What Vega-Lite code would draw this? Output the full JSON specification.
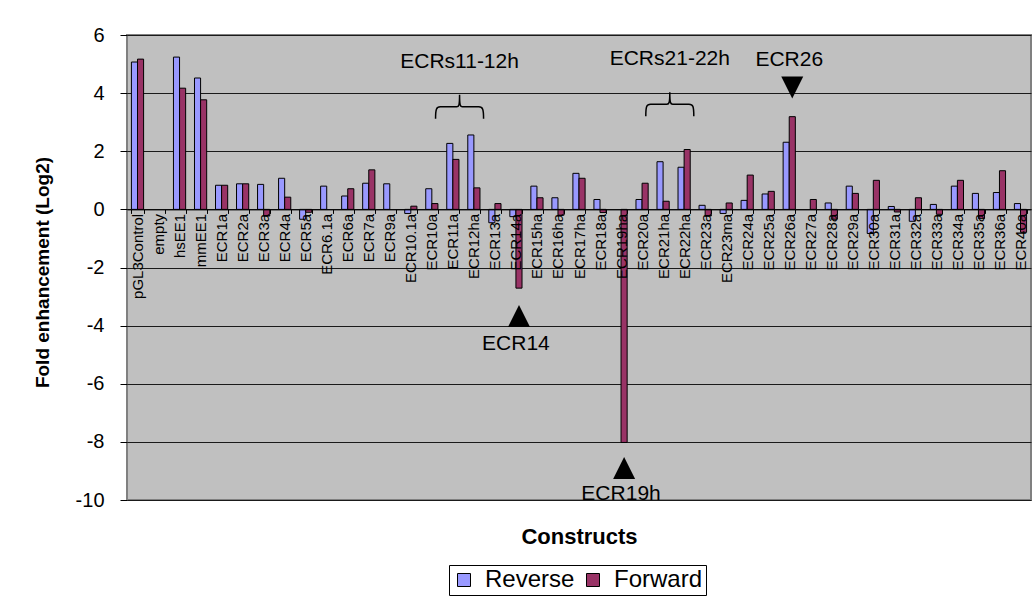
{
  "$schema": "https://vega.github.io/schema/vega-lite/v6.json",
  "autosize": {"type": "none"},
  "width": 904,
  "height": 465,
  "padding": {"left": 127, "top": 35, "right": 2, "bottom": 96},
  "background": "white",
  "config": {
    "font": "Liberation Sans",
    "view": {"fill": "#c0c0c0", "stroke": "#808080", "strokeWidth": 2}
  },
  "datasets": {
    "bars": [
      {"construct": "pGL3Control", "series": "Reverse", "value": 5.07},
      {"construct": "pGL3Control", "series": "Forward", "value": 5.17},
      {"construct": "hsEE1", "series": "Reverse", "value": 5.24},
      {"construct": "hsEE1", "series": "Forward", "value": 4.17},
      {"construct": "mmEE1", "series": "Reverse", "value": 4.52},
      {"construct": "mmEE1", "series": "Forward", "value": 3.77},
      {"construct": "ECR1a", "series": "Reverse", "value": 0.83},
      {"construct": "ECR1a", "series": "Forward", "value": 0.83},
      {"construct": "ECR2a", "series": "Reverse", "value": 0.88},
      {"construct": "ECR2a", "series": "Forward", "value": 0.88},
      {"construct": "ECR3a", "series": "Reverse", "value": 0.86},
      {"construct": "ECR3a", "series": "Forward", "value": -0.23},
      {"construct": "ECR4a", "series": "Reverse", "value": 1.07},
      {"construct": "ECR4a", "series": "Forward", "value": 0.42},
      {"construct": "ECR5a", "series": "Reverse", "value": -0.34},
      {"construct": "ECR5a", "series": "Forward", "value": -0.1},
      {"construct": "ECR6.1a", "series": "Reverse", "value": 0.8},
      {"construct": "ECR6a", "series": "Reverse", "value": 0.46},
      {"construct": "ECR6a", "series": "Forward", "value": 0.71},
      {"construct": "ECR7a", "series": "Reverse", "value": 0.9},
      {"construct": "ECR7a", "series": "Forward", "value": 1.36},
      {"construct": "ECR9a", "series": "Reverse", "value": 0.88},
      {"construct": "ECR10.1a", "series": "Reverse", "value": -0.14},
      {"construct": "ECR10.1a", "series": "Forward", "value": 0.11},
      {"construct": "ECR10a", "series": "Reverse", "value": 0.71},
      {"construct": "ECR10a", "series": "Forward", "value": 0.2},
      {"construct": "ECR11a", "series": "Reverse", "value": 2.27},
      {"construct": "ECR11a", "series": "Forward", "value": 1.72},
      {"construct": "ECR12ha", "series": "Reverse", "value": 2.56},
      {"construct": "ECR12ha", "series": "Forward", "value": 0.74},
      {"construct": "ECR13a", "series": "Reverse", "value": -0.46},
      {"construct": "ECR13a", "series": "Forward", "value": 0.2},
      {"construct": "ECR14a", "series": "Reverse", "value": -0.25},
      {"construct": "ECR14a", "series": "Forward", "value": -2.71},
      {"construct": "ECR15ha", "series": "Reverse", "value": 0.8},
      {"construct": "ECR15ha", "series": "Forward", "value": 0.4},
      {"construct": "ECR16ha", "series": "Reverse", "value": 0.4},
      {"construct": "ECR16ha", "series": "Forward", "value": -0.2},
      {"construct": "ECR17ha", "series": "Reverse", "value": 1.24},
      {"construct": "ECR17ha", "series": "Forward", "value": 1.07},
      {"construct": "ECR18a", "series": "Reverse", "value": 0.34},
      {"construct": "ECR18a", "series": "Forward", "value": -0.11},
      {"construct": "ECR19ha", "series": "Forward", "value": -8.02},
      {"construct": "ECR20a", "series": "Reverse", "value": 0.34},
      {"construct": "ECR20a", "series": "Forward", "value": 0.9},
      {"construct": "ECR21ha", "series": "Reverse", "value": 1.64},
      {"construct": "ECR21ha", "series": "Forward", "value": 0.28},
      {"construct": "ECR22ha", "series": "Reverse", "value": 1.45},
      {"construct": "ECR22ha", "series": "Forward", "value": 2.06},
      {"construct": "ECR23a", "series": "Reverse", "value": 0.14},
      {"construct": "ECR23a", "series": "Forward", "value": -0.23},
      {"construct": "ECR23ma", "series": "Reverse", "value": -0.14},
      {"construct": "ECR23ma", "series": "Forward", "value": 0.22},
      {"construct": "ECR24a", "series": "Reverse", "value": 0.31},
      {"construct": "ECR24a", "series": "Forward", "value": 1.18},
      {"construct": "ECR25a", "series": "Reverse", "value": 0.53},
      {"construct": "ECR25a", "series": "Forward", "value": 0.62},
      {"construct": "ECR26a", "series": "Reverse", "value": 2.31},
      {"construct": "ECR26a", "series": "Forward", "value": 3.19},
      {"construct": "ECR27a", "series": "Forward", "value": 0.34},
      {"construct": "ECR28a", "series": "Reverse", "value": 0.22},
      {"construct": "ECR28a", "series": "Forward", "value": -0.34},
      {"construct": "ECR29a", "series": "Reverse", "value": 0.8},
      {"construct": "ECR29a", "series": "Forward", "value": 0.55},
      {"construct": "ECR30a", "series": "Reverse", "value": -0.83},
      {"construct": "ECR30a", "series": "Forward", "value": 1.0},
      {"construct": "ECR31a", "series": "Reverse", "value": 0.1},
      {"construct": "ECR31a", "series": "Forward", "value": -0.09},
      {"construct": "ECR32a", "series": "Reverse", "value": -0.41},
      {"construct": "ECR32a", "series": "Forward", "value": 0.4},
      {"construct": "ECR33a", "series": "Reverse", "value": 0.17},
      {"construct": "ECR33a", "series": "Forward", "value": -0.17},
      {"construct": "ECR34a", "series": "Reverse", "value": 0.8},
      {"construct": "ECR34a", "series": "Forward", "value": 1.0},
      {"construct": "ECR35a", "series": "Reverse", "value": 0.55},
      {"construct": "ECR35a", "series": "Forward", "value": -0.32},
      {"construct": "ECR36a", "series": "Reverse", "value": 0.58},
      {"construct": "ECR36a", "series": "Forward", "value": 1.33},
      {"construct": "ECR40a", "series": "Reverse", "value": 0.2},
      {"construct": "ECR40a", "series": "Forward", "value": -0.79}
    ],
    "groups": [
      {"construct": "ECR11a", "label": "ECRs11-12h", "labelY": 5.06, "braceY": 3.53},
      {"construct": "ECR21ha", "label": "ECRs21-22h", "labelY": 5.16, "braceY": 3.62}
    ],
    "marks": [
      {"construct": "ECR14a", "label": "ECR14", "labelY": -4.63, "arrowY": -3.67, "dir": "up"},
      {"construct": "ECR19ha", "label": "ECR19h", "labelY": -9.79, "arrowY": -8.9, "dir": "up"},
      {"construct": "ECR26a", "label": "ECR26", "labelY": 5.15, "arrowY": 4.19, "dir": "down"}
    ]
  },
  "encoding": {
    "x": {
      "field": "construct",
      "type": "nominal",
      "scale": {
        "domain": ["pGL3Control", "empty", "hsEE1", "mmEE1", "ECR1a", "ECR2a", "ECR3a", "ECR4a", "ECR5a", "ECR6.1a", "ECR6a", "ECR7a", "ECR9a", "ECR10.1a", "ECR10a", "ECR11a", "ECR12ha", "ECR13a", "ECR14a", "ECR15ha", "ECR16ha", "ECR17ha", "ECR18a", "ECR19ha", "ECR20a", "ECR21ha", "ECR22ha", "ECR23a", "ECR23ma", "ECR24a", "ECR25a", "ECR26a", "ECR27a", "ECR28a", "ECR29a", "ECR30a", "ECR31a", "ECR32a", "ECR33a", "ECR34a", "ECR35a", "ECR36a", "ECR40a"],
        "paddingInner": 0.42,
        "paddingOuter": 0.21
      },
      "axis": {
        "orient": "bottom",
        "offset": -290.6,
        "zindex": 1,
        "domainColor": "#000000",
        "domainWidth": 1,
        "tickBand": "extent",
        "tickColor": "#000000",
        "tickSize": 4,
        "labelAngle": 270,
        "labelAlign": "right",
        "labelBaseline": "middle",
        "labelPadding": 0,
        "labelFontSize": 15,
        "labelColor": "#000000",
        "labelLimit": 0,
        "title": "Constructs",
        "titleFontSize": 22,
        "titleFontWeight": "bold",
        "titleColor": "#000000",
        "titleBaseline": "middle",
        "titleY": 327
      }
    }
  },
  "layer": [
    {
      "data": {"name": "bars"},
      "mark": {"type": "bar", "stroke": "#000000", "strokeWidth": 1},
      "encoding": {
        "xOffset": {"field": "series", "type": "nominal", "scale": {"domain": ["Reverse", "Forward"], "paddingInner": 0, "paddingOuter": 0}},
        "y": {
          "field": "value",
          "type": "quantitative",
          "scale": {"domain": [-10, 6], "nice": false, "zero": false},
          "axis": {
            "values": [-10, -8, -6, -4, -2, 0, 2, 4, 6],
            "labelExpr": "replace(datum.label, '\u2212', '-')",
            "grid": true,
            "gridColor": "#1a1a1a",
            "gridWidth": 1,
            "domain": false,
            "tickColor": "#000000",
            "tickSize": 7,
            "labelPadding": 16,
            "labelFontSize": 20,
            "labelColor": "#000000",
            "title": "Fold enhancement (Log2)",
            "titleFontSize": 19,
            "titleFontWeight": "bold",
            "titleColor": "#000000",
            "titleAngle": 270,
            "titleAlign": "center",
            "titleBaseline": "middle",
            "titleX": -85,
            "titleY": 237
          }
        },
        "color": {
          "field": "series",
          "type": "nominal",
          "scale": {"domain": ["Reverse", "Forward"], "range": ["#9999ff", "#993366"]},
          "legend": {
            "title": null,
            "orient": "none",
            "legendX": 322,
            "legendY": 530,
            "direction": "horizontal",
            "strokeColor": "#000000",
            "fillColor": "#ffffff",
            "padding": 3,
            "symbolType": "square",
            "symbolSize": 169,
            "symbolStrokeColor": "#000000",
            "symbolStrokeWidth": 1,
            "labelFontSize": 24,
            "labelColor": "#000000",
            "labelOffset": 9,
            "columnPadding": 6
          }
        }
      }
    },
    {
      "mark": {"type": "rule", "color": "#ff0000", "strokeWidth": 2, "strokeDash": [8, 5]},
      "encoding": {"y": {"datum": 1, "type": "quantitative"}, "x": null}
    },
    {
      "data": {"name": "groups"},
      "mark": {"type": "text", "fontSize": 21, "color": "#000000", "baseline": "middle", "align": "center"},
      "encoding": {
        "x": {"field": "construct", "type": "nominal", "bandPosition": 1.05},
        "y": {"field": "labelY", "type": "quantitative"},
        "text": {"field": "label"}
      }
    },
    {
      "data": {"name": "groups"},
      "mark": {"type": "point", "shape": "M -1 0.5 C -1 0.1 -0.97 0 -0.8 0 L -0.12 0 C -0.03 0 0 -0.05 0 -0.5 C 0 -0.05 0.03 0 0.12 0 L 0.8 0 C 0.97 0 1 0.1 1 0.5", "size": 2304, "filled": false, "stroke": "#000000", "strokeWidth": 1.5, "opacity": 1},
      "encoding": {
        "x": {"field": "construct", "type": "nominal", "bandPosition": 1.05},
        "y": {"field": "braceY", "type": "quantitative"}
      }
    },
    {
      "data": {"name": "marks"},
      "mark": {"type": "text", "fontSize": 21, "color": "#000000", "baseline": "middle", "align": "center"},
      "encoding": {
        "y": {"field": "labelY", "type": "quantitative"},
        "text": {"field": "label"}
      }
    },
    {
      "data": {"name": "marks"},
      "mark": {"type": "point", "filled": true, "size": 484, "color": "#000000", "opacity": 1},
      "encoding": {
        "xOffset": {"datum": "Forward"},
        "y": {"field": "arrowY", "type": "quantitative"},
        "shape": {"field": "dir", "type": "nominal", "scale": {"domain": ["up", "down"], "range": ["M 0 -1 L 1 1 L -1 1 Z", "M -1 -1 L 1 -1 L 0 1 Z"]}, "legend": null}
      }
    }
  ]
}
